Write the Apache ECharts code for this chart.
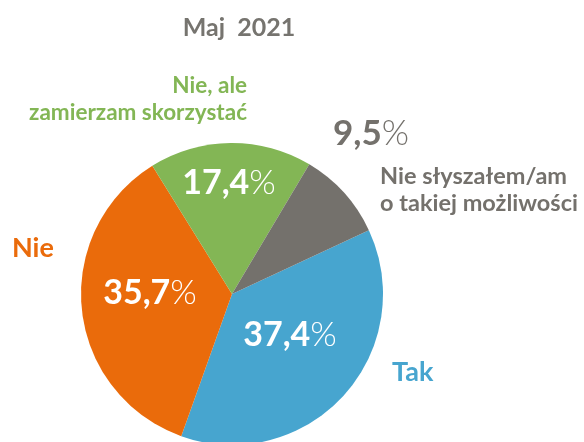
<!DOCTYPE html>
<html>
<head>
<meta charset="utf-8">
<script src="https://cdn.jsdelivr.net/npm/echarts@6/dist/echarts.min.js"></script>
<style>
  html, body { margin: 0; padding: 0; background: #fff; }
  #chart { width: 584px; height: 442px; }
</style>
</head>
<body>
<div id="chart"></div>
<script>
// Maj 2021 – struktura odpowiedzi (wykres kołowy)
const TITLE = 'Maj  2021';
const names = ['Tak', 'Nie', 'Nie, ale\nzamierzam skorzystać', 'Nie słyszałem/am\no takiej możliwości'];
const values = [37.4, 35.7, 17.4, 9.5];

const COLORS = ['#47a5cf', '#ea6b0b', '#83b655', '#74716c'];
const FONT = 'Lato, "Noto Sans", sans-serif';

// pozycje etykiet (procenty, potem nazwy)
const VALUE_POS = [
  { x: 290, y: 335, align: 'center' },
  { x: 150, y: 293, align: 'center' },
  { x: 229, y: 183, align: 'center' },
  { x: 333, y: 134, align: 'left' }
];
const NAME_POS = [
  { x: 392, y: 372, align: 'left' },
  { x: 12, y: 248, align: 'left' },
  { x: 247, y: 99, align: 'right' },
  { x: 380, y: 190, align: 'left' }
];
const NAME_SIZE = [27, 27, 22.5, 23.5];

const fmt = v => String(v).replace('.', ',');

const chart = echarts.init(document.getElementById('chart'), null, { renderer: 'canvas' });

const pieBase = {
  type: 'pie',
  center: [232, 294],
  radius: 151,
  startAngle: 25,
  clockwise: true,
  avoidLabelOverlap: false,
  labelLine: { show: false },
  emphasis: { disabled: true }
};

chart.setOption({
  animation: false,
  title: {
    text: TITLE,
    left: 239,
    top: 15,
    padding: 0,
    textAlign: 'center',
    textStyle: { fontFamily: FONT, fontSize: 25, fontWeight: 'bold', color: '#76746f' }
  },
  series: [
    Object.assign({}, pieBase, {
      data: values.map((v, i) => ({
        value: v,
        name: names[i],
        itemStyle: { color: COLORS[i] },
        label: i === 3
          ? { rich: { v: { color: COLORS[3], fontSize: 35 }, p: { color: COLORS[3], fontSize: 35 } } }
          : undefined
      })),
      label: {
        show: true,
        position: 'inside',
        formatter: p => `{v|${fmt(p.value)}}{p|%}`,
        rich: {
          v: { fontFamily: FONT, fontSize: 34, fontWeight: 'bold', color: '#fff' },
          p: { fontFamily: FONT, fontSize: 34, fontWeight: 300, color: '#fff' }
        }
      },
      labelLayout: p => Object.assign({ verticalAlign: 'middle' }, VALUE_POS[p.dataIndex])
    }),
    Object.assign({}, pieBase, {
      silent: true,
      data: values.map((v, i) => ({
        value: v,
        name: names[i],
        itemStyle: { color: 'rgba(0,0,0,0)' },
        label: { color: COLORS[i], fontSize: NAME_SIZE[i], lineHeight: 27 }
      })),
      label: {
        show: true,
        position: 'outside',
        formatter: '{b}',
        fontFamily: FONT,
        fontWeight: 'bold'
      },
      labelLayout: p => Object.assign({ verticalAlign: 'middle' }, NAME_POS[p.dataIndex])
    })
  ]
});
</script>
</body>
</html>
